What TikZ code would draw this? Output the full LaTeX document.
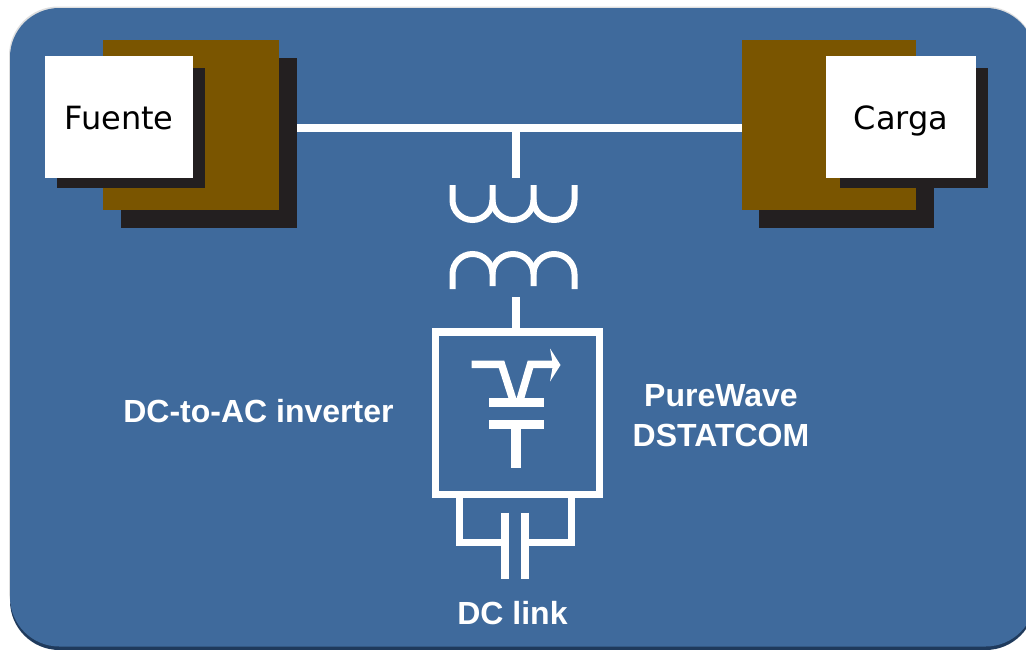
\documentclass[tikz,border=0pt]{standalone}
\usepackage{fontspec}
\setmainfont{Liberation Sans}
\newfontfamily\boxfont{DejaVu Sans}
\definecolor{panelblue}{HTML}{3F6A9C}
\definecolor{paneldark}{HTML}{1F3A5C}
\definecolor{brownbox}{HTML}{7A5500}
\definecolor{darkbox}{HTML}{231F20}
\tikzset{
  x=0.75pt,y=-0.75pt,
  block/.style={rectangle,draw=none,inner sep=0pt,outer sep=0pt,minimum width=#1*0.75pt},
  wire/.style={draw=white,line width=6pt,line cap=butt,line join=miter},
  coilwire/.style={draw=white,line width=4.5pt,line cap=butt},
  lead/.style={draw=white,line width=5.6pt,line join=miter},
  inlabel/.style={text=black,text height=19pt,text depth=0pt,font=\boxfont\fontsize{24}{28}\selectfont},
  outlabel/.style={text=white,align=center,font=\bfseries\fontsize{24}{30}\selectfont},
}
\begin{document}
\begin{tikzpicture}
\useasboundingbox (0,0) rectangle (1026,650);
\fill[white] (0,0) rectangle (1026,650);
% panel
\fill[paneldark,rounded corners=37pt] (10,10) rectangle (1035,650);
\fill[gray!25,rounded corners=37pt] (9,6.5) rectangle (1035,640);
\fill[panelblue,rounded corners=37pt] (10,8) rectangle (1035,646.5);
% source blocks
\node[block=176,minimum height=170*0.75pt,fill=darkbox] (srcshadow) at (209,143) {};
\node[block=176,minimum height=170*0.75pt,fill=brownbox] (srcback) at (191,125) {};
\node[block=148,minimum height=120*0.75pt,fill=darkbox] (srcinner) at (131,128) {};
\node[block=148,minimum height=122*0.75pt,fill=white,inlabel] (fuente) at (119,117) {Fuente};
% load blocks
\node[block=175,minimum height=170*0.75pt,fill=darkbox] (loadshadow) at (846.5,143) {};
\node[block=174,minimum height=170*0.75pt,fill=brownbox] (loadback) at (829,125) {};
\node[block=148,minimum height=120*0.75pt,fill=darkbox] (loadinner) at (914,128) {};
\node[block=150,minimum height=122*0.75pt,fill=white,inlabel] (carga) at (901,117) {Carga};
% bus
\coordinate (tap) at (515.5,128);
\coordinate (coiltop) at (515.5,178);
\draw[wire] (srcshadow.east |- tap) -- (loadback.west |- tap);
\draw[wire] (tap) -- (coiltop);
% transformer
\draw[coilwire] (452.5,185) -- (452.5,200) arc[start angle=180,end angle=360,radius=20,y radius=-20] -- (492.5,185);
\draw[coilwire] (492.5,200) arc[start angle=180,end angle=360,x radius=20.5,y radius=-20] -- (533.5,185);
\draw[coilwire] (533.5,200) arc[start angle=180,end angle=360,x radius=20.5,y radius=-20] -- (574.5,185);
\draw[coilwire] (452.5,289) -- (452.5,274) arc[start angle=180,end angle=0,x radius=20,y radius=-20] -- (492.5,286);
\draw[coilwire] (492.5,274) arc[start angle=180,end angle=0,x radius=20.5,y radius=-20] -- (533.5,286);
\draw[coilwire] (533.5,274) arc[start angle=180,end angle=0,x radius=20.5,y radius=-20] -- (574.5,289);
% inverter box
\node[block=164,minimum height=162.5*0.75pt,draw=white,line width=5.8pt] (inverter) at (517.4,413.2) {};
\coordinate (stemtop) at (515.5,297);
\draw[wire] (stemtop) -- (stemtop |- inverter.north);
% transistor
\draw[lead] (471.7,364.3) -- (501.5,364.3) -- (513,400);
\draw[lead] (520,400) -- (530.5,364.3) -- (553,364.3);
\fill[white] (550,348.5) -- (560.5,365) -- (550,381.5) -- (553,365) -- cycle;
\fill[white] (489.3,398.3) rectangle (543.7,406.7);
\fill[white] (489.3,420) rectangle (543.7,428.7);
\fill[white] (511.3,428) rectangle (521.3,468.3);
% dc link
\coordinate (legl) at (459.3,542.7);
\coordinate (legr) at (571.7,542.7);
\coordinate (platel) at (505.3,542.7);
\coordinate (plater) at (525.3,542.7);
\draw[lead] (legl |- inverter.south) -- (legl) -- (platel);
\draw[lead] (legr |- inverter.south) -- (legr) -- (plater);
\draw[wire] (505.3,512.7) -- (505.3,578.7);
\draw[wire] (525.3,512.7) -- (525.3,578.7);
% labels
\node[outlabel,inner sep=0pt] (invlabel) at (258.5,411) {DC-to-AC inverter};
\node[outlabel,inner sep=0pt] (pwlabel) at (721,415.5) {PureWave\\DSTATCOM};
\node[outlabel,inner sep=0pt] (dclabel) at (512.5,613) {DC link};
\end{tikzpicture}
\end{document}
